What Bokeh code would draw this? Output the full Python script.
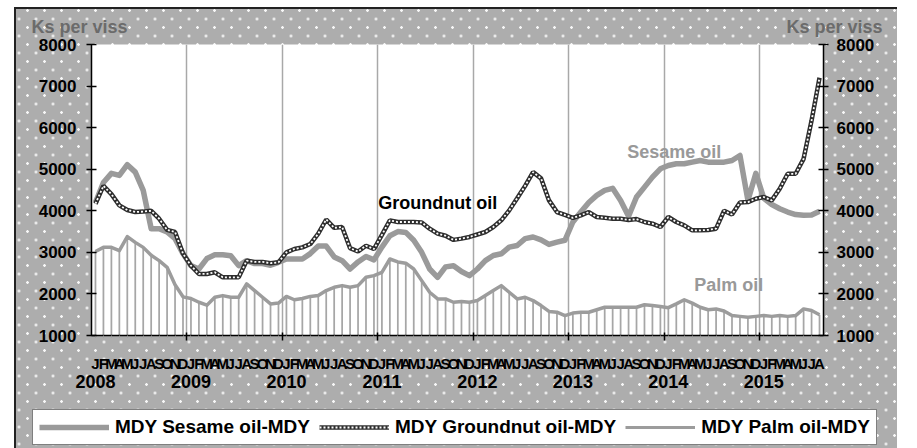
from bokeh.plotting import figure
from bokeh.layouts import column
from bokeh.models import (LinearAxis, FixedTicker, Grid, Label, Legend, LegendItem, Range1d)
from bokeh.embed import file_html
from bokeh.resources import INLINE

# ---------------- data ----------------
month_letters = ["J", "F", "M", "A", "M", "J", "J", "A", "S", "O", "N", "D"]
years = [2008, 2009, 2010, 2011, 2012, 2013, 2014, 2015]
y_ticks = [1000, 2000, 3000, 4000, 5000, 6000, 7000, 8000]

# monthly prices, Jan 2008 .. Aug 2015 (Ks per viss)
sesame = [4200, 4680, 4900, 4850, 5110, 4930, 4490, 3570, 3570, 3490, 3330, 2970,
          2680, 2600, 2850, 2940, 2940, 2920, 2680, 2800, 2730, 2730, 2690, 2760,
          2840, 2840, 2840, 2970, 3150, 3150, 2890, 2800, 2600, 2770, 2900, 2820,
          3125, 3400, 3500, 3480, 3290, 3000, 2600, 2400, 2650, 2680, 2540, 2440,
          2600, 2800, 2925, 2966, 3125, 3165, 3330, 3370, 3300, 3190, 3245, 3290,
          3730, 3970, 4200, 4370, 4490, 4540, 4250, 3870, 4330, 4570, 4810, 5010,
          5090, 5130, 5130, 5170, 5210, 5170, 5170, 5170, 5210, 5330, 4250, 4900,
          4300, 4150, 4050, 3970, 3910, 3890, 3900, 3990]

groundnut = [4170, 4600, 4400, 4130, 4020, 3970, 3980, 4000, 3810, 3540, 3490, 2970,
             2680, 2480, 2480, 2520, 2400, 2400, 2400, 2800, 2770, 2770, 2740, 2760,
             3000, 3080, 3120, 3200, 3450, 3790, 3590, 3610, 3100, 3020, 3160, 3080,
             3420, 3770, 3730, 3730, 3730, 3720, 3570, 3450, 3400, 3300, 3330, 3370,
             3430, 3490, 3610, 3770, 4010, 4300, 4600, 4930, 4780, 4250, 3970, 3900,
             3830, 3890, 3970, 3850, 3830, 3810, 3810, 3780, 3800, 3730, 3690, 3610,
             3850, 3730, 3650, 3530, 3530, 3540, 3570, 4000, 3910, 4200, 4210, 4290,
             4330, 4250, 4530, 4890, 4890, 5250, 6170, 7200]

palm = [3020, 3120, 3120, 3040, 3380, 3240, 3120, 2930, 2800, 2640, 2220, 1930,
        1890, 1800, 1730, 1920, 1960, 1920, 1920, 2240, 2080, 1920, 1760, 1780,
        1940, 1860, 1890, 1940, 1960, 2080, 2160, 2200, 2160, 2200, 2400, 2440,
        2520, 2840, 2770, 2740, 2600, 2320, 2040, 1880, 1880, 1800, 1820, 1800,
        1840, 1960, 2080, 2200, 2040, 1880, 1920, 1840, 1720, 1580, 1560, 1480,
        1540, 1560, 1560, 1620, 1680, 1680, 1680, 1680, 1680, 1740, 1720, 1700,
        1670, 1760, 1860, 1780, 1680, 1620, 1640, 1590, 1480, 1460, 1440, 1460,
        1480, 1460, 1480, 1460, 1480, 1640, 1600, 1500]

series_names = ["MDY Sesame oil-MDY", "MDY Groundnut oil-MDY", "MDY Palm oil-MDY"]
unit_label = "Ks per viss"

# ---------------- derived ----------------
n = len(sesame)
x = list(range(n))
month_labels = {i: month_letters[i % 12] for i in x}
year_ticks = [12 * k for k in range(len(years))]
year_labels = {12 * k: str(y) for k, y in enumerate(years)}
year_bounds = [12 * k - 0.5 for k in range(1, len(years))]
baseline = [y_ticks[0]] * n

FONT = "Liberation Sans"
SES_STYLE = dict(line_color="#9a9a9a", line_width=5.5, line_join="round")
GN_STYLE_A = dict(line_color="#2e2e2e", line_width=4.5)
GN_STYLE_B = dict(line_color="white", line_width=1.8, line_dash="2 2")
PALM_STYLE = dict(line_color="#9c9c9c", line_width=3.5, line_join="round")
DOT = "radial-gradient(circle, rgba(255,255,255,0.9) 0px, rgba(255,255,255,0.9) 1px, rgba(255,255,255,0) 1.6px)"
SOLID_W = "linear-gradient(#ffffff,#ffffff)"
SOLID_K = "linear-gradient(#222222,#222222)"


def add_series(fig):
    r_ses = fig.line(x, sesame, **SES_STYLE)
    r_g1 = fig.line(x, groundnut, **GN_STYLE_A)
    r_g2 = fig.line(x, groundnut, **GN_STYLE_B)
    return r_ses, r_g1, r_g2


# ---------------- main chart ----------------
p = figure(width=897, height=398,
           x_range=Range1d(-0.5, n - 0.5), y_range=Range1d(y_ticks[0], y_ticks[-1]),
           x_axis_type=None, y_axis_type=None,
           output_backend="svg", toolbar_location=None,
           min_border_left=91, min_border_right=74, min_border_top=44, min_border_bottom=63,
           border_fill_color=None, background_fill_color="white", outline_line_color=None)
p.frame_align = False

p.add_layout(Grid(dimension=0, ticker=FixedTicker(ticks=year_bounds),
                  grid_line_color="#a8a8a8", grid_line_width=1.5))

p.vbar(x=x, top=palm, bottom=baseline, width=0.22, fill_color="#a6a6a6", line_color=None)
p.line(x, palm, **PALM_STYLE)
add_series(p)


def y_axis(standoff):
    return LinearAxis(ticker=FixedTicker(ticks=y_ticks),
                      major_tick_in=5, major_tick_out=5, minor_tick_in=0, minor_tick_out=0,
                      axis_line_width=1.5, major_tick_line_width=1.5,
                      major_label_standoff=standoff,
                      major_label_text_font=FONT, major_label_text_font_style="bold",
                      major_label_text_font_size="17px", major_label_text_color="black")


p.add_layout(y_axis(10), "left")
p.add_layout(y_axis(8), "right")

mx = LinearAxis(ticker=FixedTicker(ticks=x, minor_ticks=year_bounds),
                major_label_overrides=month_labels,
                major_tick_out=2, major_tick_in=0, major_tick_line_color="#999999",
                minor_tick_out=5, minor_tick_in=3, minor_tick_line_width=1.5,
                minor_tick_line_color="black",
                axis_line_width=1.5, major_label_standoff=14,
                major_label_text_font=FONT, major_label_text_font_style="bold",
                major_label_text_font_size="15px", major_label_text_color="black")
p.add_layout(mx, "below")

yx = LinearAxis(ticker=FixedTicker(ticks=year_ticks),
                major_label_overrides=year_labels,
                axis_line_color=None, major_tick_line_color=None, minor_tick_line_color=None,
                major_tick_out=0, major_tick_in=0, minor_tick_out=0, minor_tick_in=0,
                major_label_standoff=0,
                major_label_text_font=FONT, major_label_text_font_style="bold",
                major_label_text_font_size="18px", major_label_text_color="black")
p.add_layout(yx, "below")


def lab(xv, yv, text, color):
    p.add_layout(Label(x=xv, y=yv, text=text, text_align="left", text_baseline="middle",
                       text_font=FONT, text_font_style="bold", text_font_size="18px",
                       text_color=color))


lab(35.55, 4176, "Groundnut oil", "black")
lab(66.84, 5403, "Sesame oil", "#999999")
lab(75.25, 2203, "Palm oil", "#999999")

p.add_layout(Label(x=-60, y=18, x_units="screen", y_units="screen", text=unit_label,
                   text_align="left", text_baseline="middle",
                   text_font=FONT, text_font_style="bold", text_font_size="18px",
                   text_color="#6b6b6b"), "above")
p.add_layout(Label(x=791, y=-2, x_units="screen", y_units="screen", text=unit_label,
                   text_align="right", text_baseline="middle",
                   text_font=FONT, text_font_style="bold", text_font_size="18px",
                   text_color="#6b6b6b"), "above")

# ---------------- legend strip (same series; its view range keeps them off-screen) ----------------
q = figure(width=897, height=50, x_range=Range1d(0, 1), y_range=Range1d(0, 1),
           x_axis_type=None, y_axis_type=None,
           output_backend="svg", toolbar_location=None, min_border=0,
           border_fill_color=None, background_fill_color=None, outline_line_color=None)
q.frame_align = False
k_ses, k_g1, k_g2 = add_series(q)
k_palm = q.line(x, palm, line_color="#9c9c9c", line_width=3)

legend = Legend(items=[LegendItem(label=series_names[0], renderers=[k_ses]),
                       LegendItem(label=series_names[1], renderers=[k_g1, k_g2]),
                       LegendItem(label=series_names[2], renderers=[k_palm])],
                location=(32, 3), orientation="horizontal",
                border_line_color="black", border_line_width=1.5,
                background_fill_color="white", background_fill_alpha=1,
                label_text_font=FONT, label_text_font_style="bold",
                label_text_font_size="19px", label_text_color="black",
                glyph_width=70, glyph_height=20, spacing=9, padding=6,
                label_standoff=6, margin=0)
q.add_layout(legend, "center")

page = column(p, q, spacing=0)
page.styles = {
    "background-color": "#adadad",
    "background-image": ", ".join([SOLID_W, SOLID_W, SOLID_K, SOLID_K, DOT, DOT]),
    "background-size": "14px 100%, 100% 7px, 2px 100%, 100% 2px, 17px 17px, 17px 17px",
    "background-position": "0 0, 0 0, 14px 7px, 14px 7px, 2px 2px, 10.5px 10.5px",
    "background-repeat": "no-repeat, no-repeat, no-repeat, no-repeat, repeat, repeat",
}

open("out.html", "w").write(file_html(page, INLINE))
